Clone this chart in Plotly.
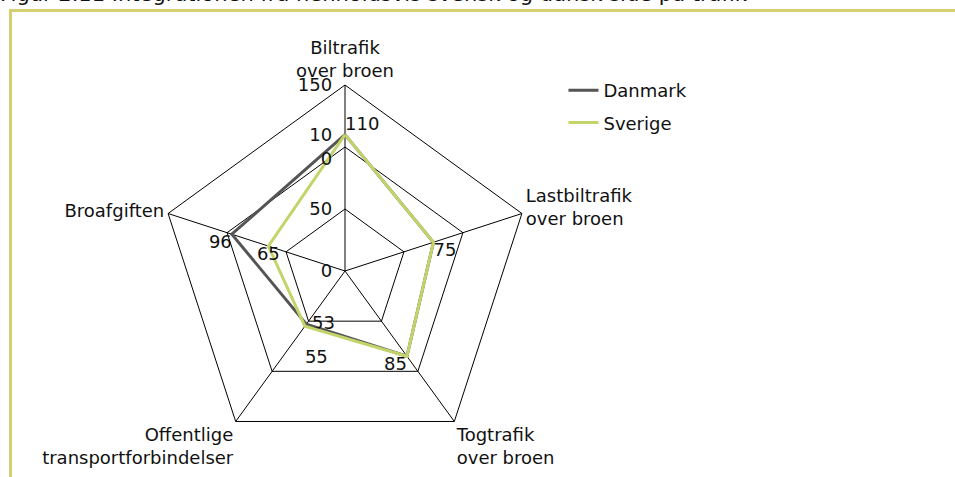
import plotly.graph_objects as go

categories = ["Biltrafik<br>over broen", "Lastbiltrafik<br>over broen", "Togtrafik<br>over broen",
              "Offentlige<br>transportforbindelser", "Broafgiften"]
danmark = [110, 75, 85, 53, 96]
sverige = [110, 75, 85, 55, 65]
danmark_labels = ["110", "75", "85", "\u00a053", "96"]
sverige_labels = ["", "", "", "<br>55", "65"]
danmark_pos = ["top right", "bottom right", "bottom left", "middle right", "bottom left"]
sverige_pos = ["top right", "bottom right", "bottom left", "bottom right", "bottom center"]
radial_ticks = [0, 50, 100, 150]
radial_ticktext = ["0", "50", "10<br>0", "150"]
title_text = "Figur 2.11 Integrationen fra henholdsvis svensk og dansk side på trafik"

FONT = "DejaVu Sans"
FS = 18
fig = go.Figure()
fig.add_trace(go.Scatterpolar(
    r=danmark + [danmark[0]], theta=categories + [categories[0]],
    name="Danmark", mode="lines+text", line=dict(color="#555555", width=3),
    text=danmark_labels + [""], textposition=danmark_pos + ["top right"],
    textfont=dict(family=FONT, size=FS, color="#111111"),
    legendgroup="a", cliponaxis=False,
))
fig.add_trace(go.Scatterpolar(
    r=sverige + [sverige[0]], theta=categories + [categories[0]],
    name="Sverige", mode="lines+text", line=dict(color="#c5d46a", width=3),
    text=sverige_labels + [""], textposition=sverige_pos + ["top right"],
    textfont=dict(family=FONT, size=FS, color="#111111"),
    legendgroup="b", cliponaxis=False,
))

fig.update_layout(
    width=955, height=477,
    margin=dict(l=0, r=0, t=0, b=0),
    paper_bgcolor="white", plot_bgcolor="white",
    font=dict(family=FONT, size=FS, color="#111111"),
    polar=dict(
        domain=dict(x=[159/955, 531/955], y=[1-457/477, 1-85/477]),
        bgcolor="white",
        gridshape="linear",
        radialaxis=dict(range=[0, 150], tickvals=radial_ticks, ticktext=radial_ticktext,
                        angle=90, side="counterclockwise", showline=False,
                        gridcolor="#000000", gridwidth=1,
                        ticks="outside", ticklen=6, tickcolor="rgba(0,0,0,0)", tickangle=90,
                        tickfont=dict(family=FONT, size=FS, color="#111111")),
        angularaxis=dict(direction="clockwise", rotation=90, linecolor="#000000",
                         linewidth=1, gridcolor="#000000", gridwidth=1, ticks="",
                         tickfont=dict(family=FONT, size=FS, color="#111111")),
    ),
    legend=dict(x=0.59, y=1-72/477, xanchor="left", yanchor="top",
                traceorder="grouped", tracegroupgap=6,
                font=dict(family=FONT, size=FS, color="#111111"),
                bgcolor="rgba(0,0,0,0)"),
    showlegend=True,
)

fig.add_annotation(text=title_text,
                   xref="paper", yref="paper", x=0, y=1, xanchor="left", yanchor="bottom",
                   xshift=-2, yshift=-8, showarrow=False,
                   font=dict(family=FONT, size=21, color="#111111"))

border = "#d6cf72"
fig.add_shape(type="line", xref="paper", yref="paper", x0=10.5/955, x1=10.5/955,
              y0=0, y1=1-10.5/477, line=dict(color=border, width=3))
fig.add_shape(type="line", xref="paper", yref="paper", x0=9/955, x1=1,
              y0=1-10.5/477, y1=1-10.5/477, line=dict(color=border, width=3))

fig.write_html("out.html", config={"displayModeBar": False},
               post_script="document.body.style.margin='0';document.body.style.overflow='hidden';")
